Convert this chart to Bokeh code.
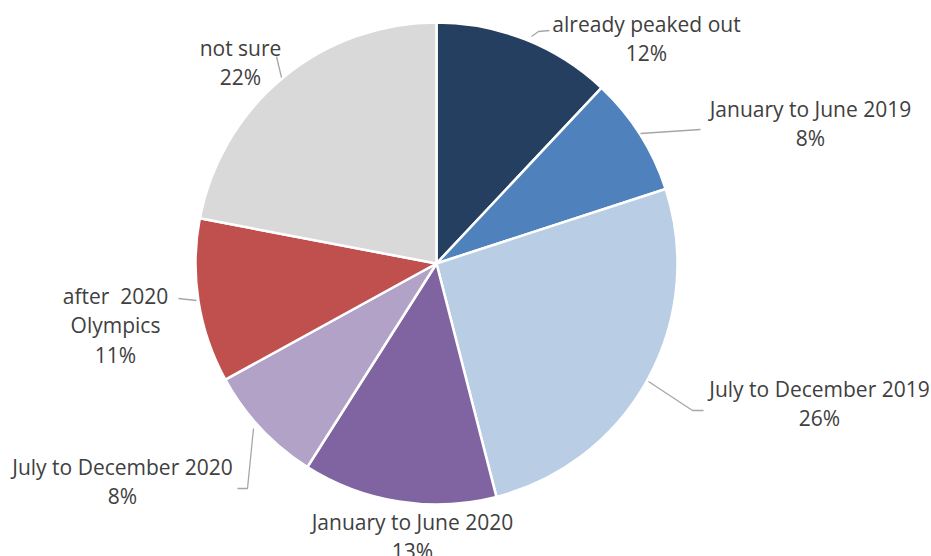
import numpy as np
from bokeh.plotting import figure
from bokeh.models import Range1d, ColumnDataSource
from bokeh.core.properties import value
from bokeh.embed import file_html
from bokeh.resources import INLINE

# ---- data ----
categories = ["already peaked out", "January to June 2019", "July to December 2019",
              "January to June 2020", "July to December 2020", "after  2020 Olympics", "not sure"]
shares = [12, 8, 26, 13, 8, 11, 22]
colors = ["#243F60", "#4F81BD", "#B9CDE5", "#8064A2", "#B3A2C7", "#C0504D", "#D9D9D9"]
label_lines = [["already peaked out"], ["January to June 2019"], ["July to December 2019"],
               ["January to June 2020"], ["July to December 2020"], ["after\u00a0 2020", "Olympics"],
               ["not sure"]]

W, H = 931, 556
cx, cy, R = 436, H - 263, 241

# layout: label block centre (x, top-line y in pixels) and leader polylines (pixels)
label_pos = [(646, 23), (810, 108), (819, 388), (412, 521), (122, 466), (115, 295), (240, 47)]
leaders = [
    [(531, 36), (538, 31), (549, 30)],
    [(640, 133), (700, 129)],
    [(648, 381), (692, 410), (703, 410)],
    None,
    [(253, 428), (247, 488), (237, 488)],
    [(196, 300), (178, 298)],
    [(281, 77), (276, 56)],
]

p = figure(width=W, height=H, output_backend="svg", toolbar_location=None,
           x_range=Range1d(0, W), y_range=Range1d(0, H), min_border=0)
p.axis.visible = False
p.grid.visible = False
p.outline_line_color = None
p.background_fill_color = "white"

vals = np.array(shares, dtype=float)
frac = vals / vals.sum()
cum = np.concatenate([[0], np.cumsum(frac)])
start = np.pi / 2 - cum[:-1] * 2 * np.pi
end = np.pi / 2 - cum[1:] * 2 * np.pi

src = ColumnDataSource(dict(start=start, end=end, color=colors, cat=categories))
p.wedge(x=cx, y=cy, radius=R, start_angle="start", end_angle="end", direction="clock",
        fill_color="color", line_color="white", line_width=2.5, source=src)

for ld in leaders:
    if ld is None:
        continue
    xs = [a for a, b in ld]
    ys = [H - b for a, b in ld]
    p.line(xs, ys, line_color="#A6A6A6", line_width=1.3)

tx, ty, tt = [], [], []
for i, lines in enumerate(label_lines):
    lx, ly = label_pos[i]
    alllines = lines + [f"{shares[i]}%"]
    for k, s in enumerate(alllines):
        tx.append(lx)
        ty.append(H - (ly + 29.5 * k))
        tt.append(s)
p.text(x=tx, y=ty, text=tt, text_align="center", text_baseline="middle",
       text_font=value("Open Sans"), text_font_size="21px", text_color="#404040")

open("out.html", "w").write(file_html(p, INLINE))
